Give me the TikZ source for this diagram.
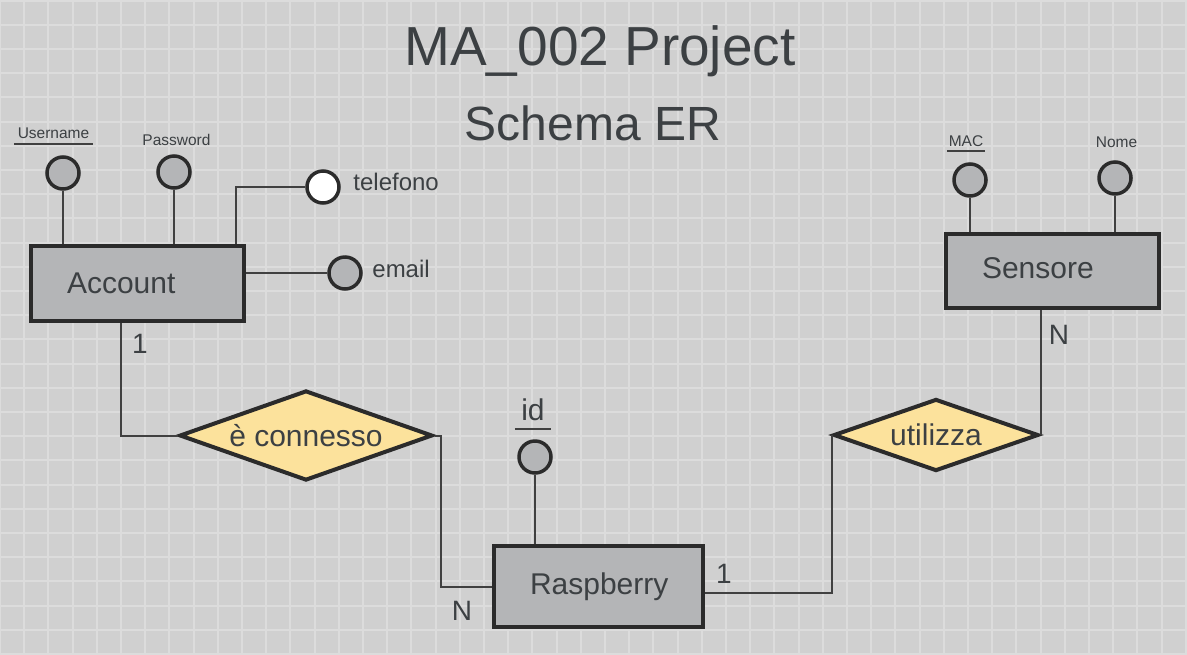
\documentclass[tikz,border=0pt]{standalone}
\usepackage{fontspec}
\setmainfont{Liberation Sans}
\usetikzlibrary{shapes.geometric}
\definecolor{paper}{HTML}{D0D0D0}
\definecolor{gridc}{HTML}{DCDCDC}
\definecolor{ink}{HTML}{3C4043}
\definecolor{edge}{HTML}{2B2B2B}
\definecolor{entfill}{HTML}{B4B5B7}
\definecolor{relfill}{HTML}{FCE29C}
\def\fs#1{\fontsize{#1}{1.2\dimexpr#1pt\relax}\selectfont}

\begin{document}
\begin{tikzpicture}[x=0.5pt,y=-0.5pt,
    every node/.style={text=ink},
    entity/.style={draw=edge,fill=entfill,line width=2pt,inner xsep=18pt,text width=70.5pt,align=left,font=\fs{15}},
    rel/.style={diamond,draw=edge,fill=relfill,line width=2pt,aspect=3,inner sep=0pt,font=\fs{15}},
    attr/.style={circle,draw=edge,fill=entfill,line width=1.75pt,minimum size=16pt,inner sep=0pt},
    small/.style={font=\fs{7.75},inner xsep=1.5pt,inner ysep=2.5pt,anchor=base},
    link/.style={draw=edge!90,line width=1pt},
    card/.style={font=\fs{14},anchor=base}]
        \useasboundingbox (0,0) rectangle (1187,654);
        \fill[paper] (0,0) rectangle (1187,654);
        \foreach \g in {0,...,49}
        \draw[gridc,line width=1pt] (\g*24.2,0) -- (\g*24.2,654);
        \foreach \g in {0,...,27}
        \draw[gridc,line width=1pt] (0,\g*24.2+0.5) -- (1187,\g*24.2+0.5);
        % title
        \node[font=\fs{27.5},anchor=base] (ttl) at (600,65) {MA\_002 Project};
        \node[font=\fs{24},anchor=base] (sub) at (593,140) {Schema ER};
        % entities
        \node[entity,minimum height=37.5pt] (acc) at (137.5,283.5) {Account};
        \node[entity,minimum height=37pt,text depth=3pt] (sens) at (1052.5,271) {Sensore};
        \node[entity,minimum height=40.5pt,text width=68.5pt] (rasp) at (598.5,586.5) {Raspberry};
        % relationships
        \node[rel,minimum width=126.5pt,minimum height=45pt] (conn) at (306,435.5) {è connesso};
        \node[rel,minimum width=102.5pt,minimum height=36pt] (util) at (936,435) {utilizza};
        % attributes
        \foreach \Name/\Point in {uCirc/{(63,173)}, pCirc/{(174,172)}, eCirc/{(345,273)}, mCirc/{(970,180)}, nCirc/{(1115,178)}, iCirc/{(535,457)}}
        \node[attr] (\Name) at \Point {};
        \node[attr,fill=white] (tCirc) at (323,187) {};
        \node[small] (uLab) at (53.5,138) {Username};
        \node[small] (pLab) at (176.5,145) {Password};
        \node[small,inner xsep=0.5pt,inner ysep=2pt] (mLab) at (966,146) {MAC};
        \node[small] (nLab) at (1116.5,147) {Nome};
        \node[font=\fs{15},anchor=base,inner xsep=3pt,inner ysep=4pt] (iLab) at (533,420) {id};
        \node[font=\fs{12},anchor=base west,inner sep=0pt] (tLab) at (353,190) {telefono};
        \node[font=\fs{12},anchor=base west,inner sep=0pt] (eLab) at (372,277) {email};
        % keys
        \foreach \Lab in {uLab, mLab, iLab}
        \draw[link] (\Lab.south west) -- (\Lab.south east);
        % attribute links
        \foreach \Circ/\Ent in {uCirc/acc, pCirc/acc, mCirc/sens, nCirc/sens, iCirc/rasp}
        \draw[link] (\Circ) -- (\Circ |- \Ent.north);
        \coordinate (tBend) at (236,187);
        \draw[link] (tBend |- acc.north) -- (tBend) -- (tCirc);
        \draw[link] (eCirc -| acc.east) -- (eCirc);
        % relationship links
        \coordinate (aBend) at (121,435.5);
        \coordinate (cBend) at (441,435.5);
        \draw[link] (aBend |- acc.south) -- (aBend) -- (conn.west);
        \draw[link] (conn.east) -| (cBend |- rasp.west) -- (rasp.west);
        \draw[link] ([yshift=-3.25pt]rasp.east) -| (util.west);
        \draw[link] (util.east) -- (util.east |- sens.south);
        % cardinalities
        \node[card] (c1) at (140,353) {1};
        \node[card] (c2) at (462,620) {N};
        \node[card] (c3) at (724,583) {1};
        \node[card] (c4) at (1059,344) {N};
\end{tikzpicture}
\end{document}
